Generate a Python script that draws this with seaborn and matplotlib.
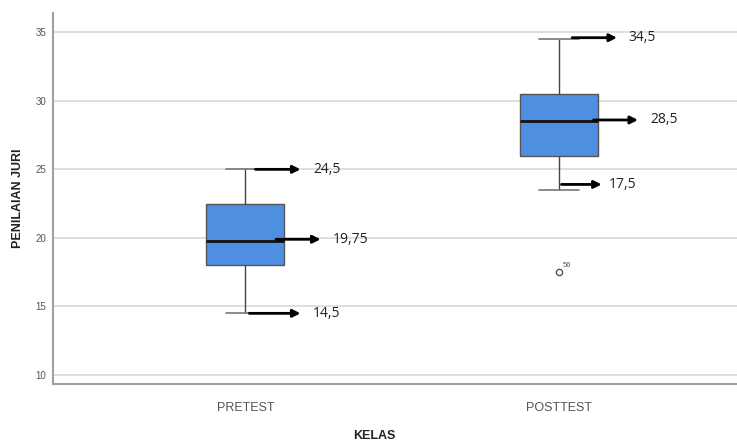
import numpy as np
import pandas as pd
import matplotlib
matplotlib.use("Agg")
import matplotlib.pyplot as plt
import seaborn as sns

# ---- data ----
categories = ["PRETEST", "POSTTEST"]
pretest_scores = [14.5, 16, 18, 19, 19.75, 21, 22.5, 23, 25]
posttest_scores = [17.5, 23.5, 26, 27, 28.5, 29, 30.5, 32, 34.5]
outlier_case_label = "56"
pretest_arrow_y = [25, 19.9, 14.5]
pretest_arrow_text = ["24,5", "19,75", "14,5"]
posttest_arrow_y = [34.6, 28.6, 23.9]
posttest_arrow_text = ["34,5", "28,5", "17,5"]
y_ticks = [10, 15, 20, 25, 30, 35]

df = pd.DataFrame({
    "KELAS": [categories[0]] * len(pretest_scores) + [categories[1]] * len(posttest_scores),
    "score": pretest_scores + posttest_scores,
})

sns.set_theme(style="white")
plt.rcParams["font.family"] = ["Liberation Sans", "DejaVu Sans"]

fig = plt.figure(figsize=(7.37, 4.41), dpi=100)
ax = fig.add_axes([0.0719, 0.129, 0.93, 0.8415])

sns.boxplot(
    data=df, x="KELAS", y="score", order=categories, ax=ax,
    width=0.25, color="#4F8FE2", linecolor="#444444", linewidth=1.0,
    saturation=1, fliersize=4.5,
    boxprops=dict(edgecolor="#555555"),
    medianprops=dict(color="#111111", linewidth=2.0),
    capprops=dict(color="#777777", linewidth=1.2),
    whiskerprops=dict(color="#444444", linewidth=1.0),
    flierprops=dict(marker="o", markerfacecolor="none", markeredgecolor="#555555", markeredgewidth=1.0),
)

ax.set_xlim(-0.613, 1.572)
ax.set_ylim(9.34, 36.4)
ax.set_yticks(y_ticks)
ax.set_yticklabels([str(t) for t in y_ticks], fontsize=7, color="#555555")
ax.tick_params(axis="y", length=0, pad=5)
ax.tick_params(axis="x", length=0, pad=13, labelsize=9, labelcolor="#555555")
ax.grid(axis="y", color="#dedede", linewidth=1.4)
ax.set_axisbelow(True)
for s in ["top", "right"]:
    ax.spines[s].set_visible(False)
for s in ["left", "bottom"]:
    ax.spines[s].set_color("#a0a0a0")
    ax.spines[s].set_linewidth(1.5)

ax.set_ylabel("PENILAIAN JURI", fontsize=9, fontweight="bold", color="#222222")
ax.yaxis.set_label_coords(-0.043, 0.5)
ax.set_xlabel("KELAS", fontsize=9, fontweight="bold", color="#222222")
ax.xaxis.set_label_coords(0.469, -0.125)

# outlier case label
ax.annotate(outlier_case_label, xy=(1, posttest_scores[0]), xytext=(3, 4),
            textcoords="offset points", fontsize=5.5, color="#555555")

# arrows and labels
arrow_layout = {
    0: [(0.032, 0.176, 0.216), (0.098, 0.240, 0.280), (0.013, 0.176, 0.216)],
    1: [(0.042, 0.185, 0.222), (0.110, 0.252, 0.290), (0.008, 0.136, 0.160)],
}
for i, (ys, texts) in enumerate([(pretest_arrow_y, pretest_arrow_text),
                                 (posttest_arrow_y, posttest_arrow_text)]):
    for (x0, x1, xt), yv, txt in zip(arrow_layout[i], ys, texts):
        ax.annotate("", xy=(i + x1, yv), xytext=(i + x0, yv),
                    arrowprops=dict(arrowstyle="-|>", color="black", lw=2.0,
                                    mutation_scale=11, shrinkA=0, shrinkB=0))
        ax.text(i + xt, yv, txt, fontsize=10, color="#222222",
                va="center", ha="left", family=["Open Sans", "DejaVu Sans"])

fig.savefig("out.png", dpi=100)
